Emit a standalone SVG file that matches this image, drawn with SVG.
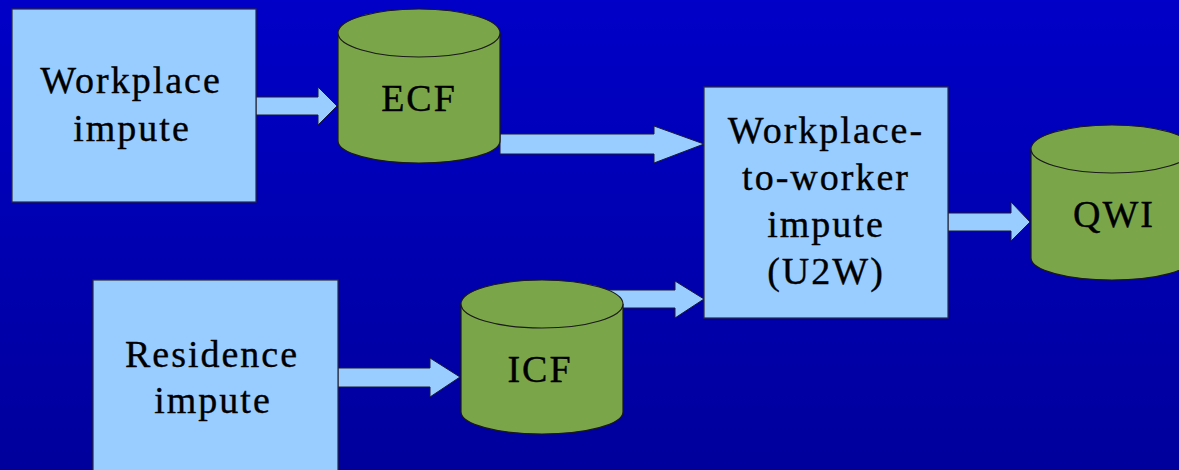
<svg xmlns="http://www.w3.org/2000/svg" width="1179" height="470" viewBox="0 0 1179 470">
<defs>
<linearGradient id="bg" x1="0" y1="0" x2="0" y2="1">
<stop offset="0" stop-color="#0000C8"/>
<stop offset="1" stop-color="#00009C"/>
</linearGradient>
</defs>
<style>
.box{fill:#99CCFF;stroke:#2a2a3a;stroke-width:1.2}
.cyl{fill:#7BA549;stroke:#1a1a1a;stroke-width:1.2}
.arr{fill:#99CCFF;stroke:#1a1a3a;stroke-width:1}
text{font-family:'Liberation Serif','Times New Roman',Times,serif;font-size:38px;fill:#000;stroke:#000;stroke-width:0.35;text-anchor:middle;letter-spacing:2px}
</style>
<rect width="1179" height="470" fill="url(#bg)"/>
<g id="connectors">
<polygon class="arr" points="256,97 318,97 318,87 337,106 318,125 318,115 256,115"/>
<polygon class="arr" points="500,134 654,134 654,126 704,144 654,163 654,154 500,154"/>
<polygon class="arr" points="600,290 675,290 675,281 704,299 675,318 675,308 600,308"/>
<polygon class="arr" points="338,368 430,368 430,358 460,377 430,397 430,387 338,387"/>
<polygon class="arr" points="948,213 1011,213 1011,202 1030,222 1011,241 1011,231 948,231"/>
</g>
<g id="workplace-impute">
<rect class="box" x="12" y="9" width="244" height="193"/>
<text x="131" y="93">Workplace</text>
<text x="132" y="141">impute</text>
</g>
<g id="ecf">
<path class="cyl" d="M338,33 A81,24 0 0 1 500,33 L500,141 A81,22 0 0 1 338,141 Z"/>
<path class="cyl" d="M338,33 A81,24 0 0 0 500,33" fill="none"/>
<text x="419" y="111">ECF</text>
</g>
<g id="u2w">
<rect class="box" x="704" y="87" width="244" height="231"/>
<text x="826" y="143">Workplace-</text>
<text x="826" y="190">to-worker</text>
<text x="826" y="237">impute</text>
<text x="826" y="284">(U2W)</text>
</g>
<g id="qwi">
<path class="cyl" d="M1031,149 A81,24 0 0 1 1193,149 L1193,258 A81,22 0 0 1 1031,258 Z"/>
<path class="cyl" d="M1031,149 A81,24 0 0 0 1193,149" fill="none"/>
<text x="1114" y="227">QWI</text>
</g>
<g id="residence-impute">
<rect class="box" x="93" y="280" width="245" height="200"/>
<text x="212" y="367">Residence</text>
<text x="213" y="413">impute</text>
</g>
<g id="icf">
<path class="cyl" d="M461,304 A81,24 0 0 1 623,304 L623,412 A81,22 0 0 1 461,412 Z"/>
<path class="cyl" d="M461,304 A81,24 0 0 0 623,304" fill="none"/>
<text x="540" y="382">ICF</text>
</g>
</svg>
